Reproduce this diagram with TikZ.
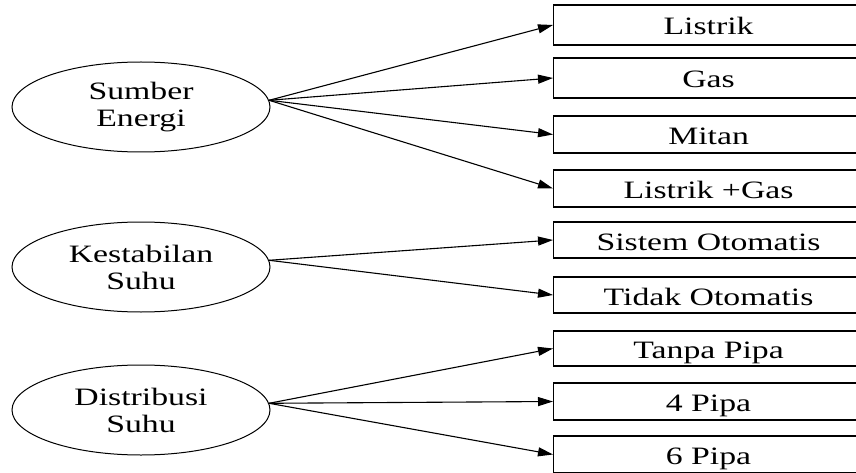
\documentclass[tikz,border=0pt]{standalone}
\usepackage{fontspec}
\setmainfont[FakeStretch=1.35]{Liberation Serif}
\usetikzlibrary{arrows.meta,shapes.geometric}
\tikzset{
  faktor/.style={ellipse,draw,line width=1pt,minimum width=258pt,minimum height=90pt,
    inner sep=0pt,align=center,font=\fontsize{25}{27}\selectfont},
  opsi/.style={rectangle,draw,line width=1.1pt,minimum width=310pt,minimum height=37pt,
    anchor=west,inner sep=0pt,text height=22pt,text depth=2pt,font=\fontsize{25}{27}\selectfont},
  panah/.style={-{Triangle[length=15pt,width=9pt]},line width=1.1pt},
}
\begin{document}
\begin{tikzpicture}[x=1pt,y=1pt]
        \fill[white] (0,0) rectangle (856,-473);
        \clip (0,0) rectangle (856,-473);
        % faktor
        \node[faktor] (se) at (141,-107) {Sumber\\Energi};
        \node[faktor] (ks) at (141,-267) {Kestabilan\\Suhu};
        \node[faktor] (ds) at (141,-410) {Distribusi\\Suhu};
        % pilihan
        \node[opsi,minimum height=40pt] (listrik) at (553,-25) {Listrik};
        \node[opsi,minimum height=40pt] (gas) at (553,-78) {Gas};
        \node[opsi] (mitan) at (553,-134.5) {Mitan};
        \node[opsi] (listrikgas) at (553,-188.5) {Listrik +Gas};
        \node[opsi,minimum height=36pt] (otomatis) at (553,-240) {Sistem Otomatis};
        \node[opsi,minimum height=36pt] (tidakotomatis) at (553,-295) {Tidak Otomatis};
        \node[opsi,minimum height=35pt] (tanpapipa) at (553,-348.5) {Tanpa Pipa};
        \node[opsi] (empatpipa) at (553,-401.5) {4 Pipa};
        \node[opsi] (enampipa) at (553,-454.5) {6 Pipa};
        % panah
        \draw[panah] (se.3) -- (listrik.west);
        \draw[panah] (se.3) -- (gas.west);
        \draw[panah] (se.3) -- (mitan.west);
        \draw[panah] (se.3) -- (listrikgas.west);
        \draw[panah] (ks.3) -- (otomatis.west);
        \draw[panah] (ks.3) -- (tidakotomatis.west);
        \draw[panah] (ds.3) -- (tanpapipa.west);
        \draw[panah] (ds.3) -- (empatpipa.west);
        \draw[panah] (ds.3) -- (enampipa.west);
      \end{tikzpicture}
\end{document}
